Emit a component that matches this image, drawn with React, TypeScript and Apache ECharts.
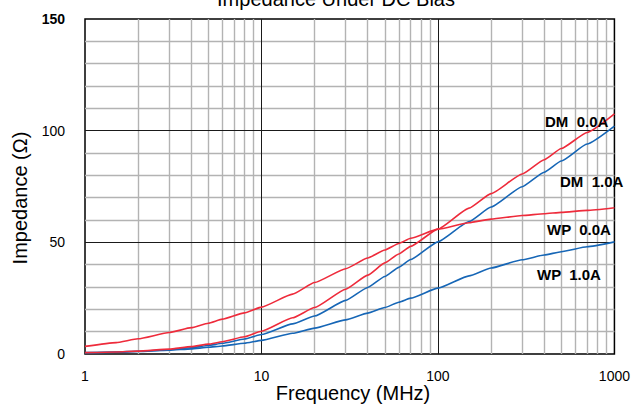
import React, { useEffect, useRef } from "react";
import * as echarts from "echarts";

const freqs = [1, 1.5, 2, 3, 4, 5, 6, 8, 10, 15, 20, 30, 40, 50, 60, 70, 100, 150, 200, 300, 400, 500, 700, 1000];
const dm00 = [0.6, 0.9, 1.3, 2.2, 3.3, 4.4, 5.5, 7.7, 10.2, 16.2, 20.8, 29.0, 35.3, 40.8, 44.8, 48.2, 55.9, 65.3, 71.8, 80.6, 87.0, 92.0, 99.2, 107.5];
const dm10 = [0.5, 0.8, 1.1, 1.9, 2.8, 3.8, 4.8, 6.7, 8.7, 13.5, 17.0, 24.0, 29.8, 34.7, 38.8, 42.3, 50.2, 59.3, 65.8, 74.9, 81.4, 86.4, 94.0, 102.0];
const wp00 = [3.4, 5.1, 6.8, 9.6, 11.8, 13.8, 15.6, 18.4, 21.0, 26.8, 32.0, 38.2, 43.0, 46.6, 49.5, 51.8, 55.9, 58.8, 60.4, 62.0, 62.8, 63.4, 64.3, 65.5];
const wp10 = [0.7, 0.9, 1.2, 1.7, 2.3, 3.0, 3.6, 4.8, 6.1, 9.3, 11.6, 15.3, 18.3, 20.8, 23.2, 25.0, 29.5, 35.0, 38.5, 42.2, 44.3, 45.8, 48.0, 50.2];

const xMinorLines = [2, 3, 4, 5, 6, 7, 8, 9, 20, 30, 40, 50, 60, 70, 80, 90, 200, 300, 400, 500, 600, 700, 800, 900];
const xMajorLines = [10, 100];
const yMinorLines = [10, 20, 30, 40, 60, 70, 80, 90, 110, 120, 130, 140];
const yMajorLines = [50, 100];
const xTickLabels = [1, 10, 100, 1000];
const yTickLabels = [0, 50, 100, 150];

const seriesLabels = [
  { text: "DM  0.0A", x: 545, y: 121 },
  { text: "DM  1.0A", x: 560, y: 181 },
  { text: "WP  0.0A", x: 547, y: 229 },
  { text: "WP  1.0A", x: 537, y: 274 },
];

const RED = "#ee2b3b";
const BLUE = "#1666b6";
const NARROW = "'Liberation Sans Narrow', 'Liberation Sans', Arial, sans-serif";
const SANS = "'Liberation Sans', Arial, Helvetica, sans-serif";

function pairs(vals: number[]) {
  return freqs.map((f, i) => [f, vals[i]]);
}

export default function App() {
  const ref = useRef<HTMLDivElement>(null);
  useEffect(() => {
    document.body.style.margin = "0";
    if (!ref.current) return;
    const chart = echarts.init(ref.current, undefined, { renderer: "svg" });
    const lineSeries = (name: string, vals: number[], color: string) => ({
      name,
      type: "line",
      data: pairs(vals),
      showSymbol: false,
      smooth: 0.15,
      smoothMonotone: "x",
      z: 5,
      lineStyle: { color, width: 1.6 },
      itemStyle: { color },
      silent: true,
    });
    const gridLines = (name: string, xs: number[], ys: number[], color: string, width: number, z: number) => ({
      name,
      type: "line",
      data: [],
      z,
      silent: true,
      markLine: {
        silent: true,
        symbol: ["none", "none"],
        label: { show: false },
        emphasis: { disabled: true },
        lineStyle: { type: "solid", color, width },
        data: [...xs.map((v) => ({ xAxis: v })), ...ys.map((v) => ({ yAxis: v }))],
      },
    });
    chart.setOption({
      animation: false,
      backgroundColor: "#ffffff",
      grid: {
        left: 85,
        right: 16,
        top: 19,
        bottom: 50,
        show: true,
        borderColor: "#000",
        borderWidth: 1.5,
        backgroundColor: "transparent",
      },
      xAxis: {
        type: "log",
        logBase: 10,
        min: 1,
        max: 1000,
        axisLine: { show: false },
        axisTick: { show: false },
        splitLine: { show: false },
        minorSplitLine: { show: false },
        axisLabel: {
          color: "#000",
          fontSize: 14,
          fontFamily: SANS,
          margin: 15,
          formatter: (v: number) => (xTickLabels.includes(Math.round(v)) ? String(Math.round(v)) : ""),
        },
      },
      yAxis: {
        type: "value",
        min: 0,
        max: 150,
        interval: 10,
        axisLine: { show: false },
        axisTick: { show: false },
        splitLine: { show: false },
        axisLabel: {
          color: "#000",
          fontSize: 14,
          fontFamily: NARROW,
          margin: 20,
          formatter: (v: number) =>
            yTickLabels.includes(v) ? (v === 150 ? "{b|" + v + "}" : String(v)) : "",
          rich: {
            b: { fontWeight: "bold", fontSize: 14, fontFamily: NARROW, color: "#000" },
          },
        },
      },
      graphic: [
        {
          type: "text",
          x: 336,
          y: 9,
          style: {
            text: "Impedance Under DC Bias",
            fill: "#000",
            font: "20px " + SANS,
            textAlign: "center",
            textVerticalAlign: "bottom",
          },
        },
        {
          type: "text",
          x: 353,
          y: 393,
          style: {
            text: "Frequency (MHz)",
            fill: "#000",
            font: "20px " + SANS,
            textAlign: "center",
            textVerticalAlign: "middle",
          },
        },
        {
          type: "text",
          x: 20,
          y: 198,
          rotation: Math.PI / 2,
          style: {
            text: "Impedance (Ω)",
            fill: "#000",
            font: "20px " + SANS,
            textAlign: "center",
            textVerticalAlign: "middle",
          },
        },
        ...seriesLabels.map((l) => ({
          type: "text",
          x: l.x,
          y: l.y,
          z: 10,
          style: {
            text: l.text,
            fill: "#000",
            font: "bold 15px " + NARROW,
            textAlign: "left",
            textVerticalAlign: "middle",
          },
        })),
      ],
      series: [
        gridLines("minor", xMinorLines, yMinorLines, "#b3b3b3", 1.4, 1),
        gridLines("major", xMajorLines, yMajorLines, "#1a1a1a", 1, 2),
        lineSeries("WP 1.0A", wp10, BLUE),
        lineSeries("DM 1.0A", dm10, BLUE),
        lineSeries("WP 0.0A", wp00, RED),
        lineSeries("DM 0.0A", dm00, RED),
      ],
    });
    return () => chart.dispose();
  }, []);
  return <div ref={ref} style={{ width: 633, height: 404 }} />;
}
